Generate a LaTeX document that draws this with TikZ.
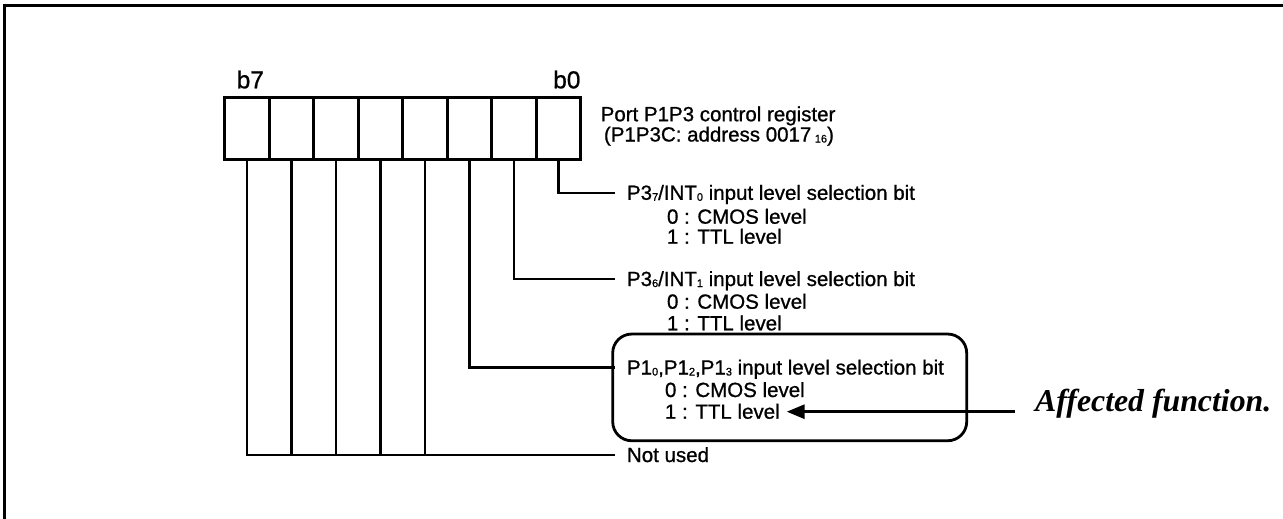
\documentclass[tikz,border=0pt]{standalone}
\usepackage{fontspec}
\setmainfont{Liberation Sans}[FakeBold=0.9]
\newfontfamily\afffont{Liberation Serif}
\usetikzlibrary{arrows.meta}
\newcommand\lbf{\fontsize{20.5}{22}\selectfont}
\newcommand\sbx[1]{\raisebox{-1pt}{\fontsize{11}{11}\selectfont #1}}
\begin{document}
\begin{tikzpicture}[x=1pt,y=-1pt,
  cell/.style={draw, line width=2.8pt, minimum width=44.5pt, minimum height=61.6pt, inner sep=0pt, outer sep=0pt},
  lbl/.style={font=\lbf, inner sep=0pt, outer sep=0pt, text height=14pt, text depth=0pt, anchor=west},
  bitlbl/.style={font=\fontsize{24.5}{24.5}\selectfont, inner sep=0pt, anchor=base west},
  wire/.style={line width=2.6pt},
  hlbox/.style={draw, line width=2.8pt, rounded corners=19pt, inner sep=0pt, minimum width=354pt, minimum height=106.7pt},
  affarrow/.style={line width=3pt, -{Triangle[length=18pt,width=14pt]}},
  afftext/.style={font=\afffont\bfseries\itshape\fontsize{31.8}{31.8}\selectfont, anchor=base west, inner sep=0pt}]
\useasboundingbox (0,0) rectangle (1283,519);
\draw[line width=2.7pt] (4.7,519) -- (4.7,5.6) -- (1283,5.6);

% register cells
\foreach \i in {0,...,7}{
  \node[cell] (c\i) at ({246.95+44.5*(7-\i)},128.5) {};
}
\node[bitlbl] (b7) at (236.5,88.3) {b7};
\node[bitlbl] (b0) at (553,88.3) {b0};
\node[lbl] (reg1) at (600.7,114.2) {Port P1P3 control register};
\node[lbl] (reg2) at (604,134.5) {(P1P3C: address 0017\,\sbx{16})};

% bit 0
\node[lbl] (t0) at (627,192.8) {P3\sbx{7}/INT\sbx{0} input level selection bit};
\node[lbl] (t0a) at (667,216.7) {0 : CMOS level};
\node[lbl] (t0b) at (667,236.7) {1 : TTL level};
% bit 1
\node[lbl] (t1) at (627,279) {P3\sbx{6}/INT\sbx{1} input level selection bit};
\node[lbl] (t1a) at (667,301.7) {0 : CMOS level};
\node[lbl] (t1b) at (667,323.3) {1 : TTL level};
% bit 2
\node[lbl] (t2) at (627,367.5) {P1\sbx{0},P1\sbx{2},P1\sbx{3} input level selection bit};
\node[lbl] (t2a) at (665,390) {0 : CMOS level};
\node[lbl] (t2b) at (665,411.7) {1 : TTL level};
% not used
\node[lbl] (nu) at (627,455) {Not used};

% connectors
\draw[wire] (c0.south) |- ([xshift=-12pt]t0.west);
\draw[wire] (c1.south) |- ([xshift=-12pt]t1.west);
\draw[wire] (c2.south) |- ([xshift=-12pt]t2.west);
\draw[wire] (c7.south) |- ([xshift=-12pt]nu.west);
\foreach \i in {3,...,6}{
  \draw[wire] (c\i.south) -- (c\i.south |- nu.west);
}

% highlight
\node[hlbox] (hl) at (789.7,387.4) {};
\node[afftext] (af) at (1035,411.7) {Affected function.};
\coordinate (as) at ([xshift=-20pt]af.base west);
\draw[affarrow] (as) -- ([xshift=7pt]t2b.east);
\end{tikzpicture}
\end{document}
